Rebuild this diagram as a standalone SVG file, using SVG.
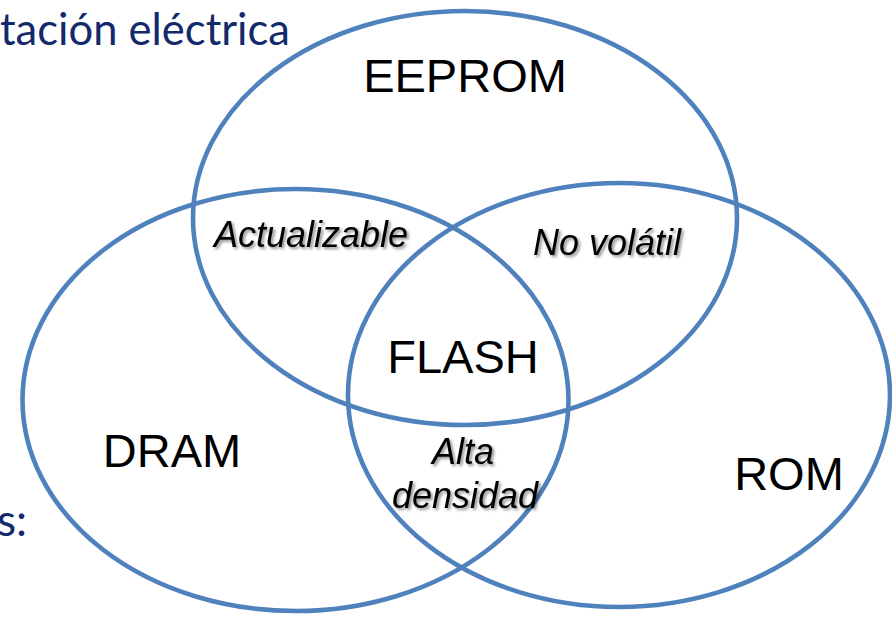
<svg xmlns="http://www.w3.org/2000/svg" width="892" height="617" viewBox="0 0 892 617">
<defs>
<style>
.ring{fill:none;stroke:#4F81BD;stroke-width:4.6}
.big{font-family:"Liberation Sans",Arial,sans-serif;font-size:47px;fill:#000;text-anchor:middle}
.it{font-family:"Liberation Sans",Arial,sans-serif;font-size:36px;font-style:italic;fill:#000;text-anchor:middle}
.bg{font-family:Lato,"Open Sans",sans-serif;font-size:44px;fill:#13296B}
</style>
<filter id="sh" x="-10%" y="-20%" width="130%" height="150%">
<feDropShadow dx="2" dy="2" stdDeviation="1.5" flood-color="#000" flood-opacity="0.45"/>
</filter>
</defs>
<rect width="892" height="617" fill="#fff"/>
<g id="background-text">
<text class="bg" x="0" y="45" textLength="290" lengthAdjust="spacingAndGlyphs">tación eléctrica</text>
<text class="bg" x="-3" y="536">s:</text>
</g>
<g id="connectors"></g>
<g id="eeprom">
<ellipse class="ring" cx="465" cy="218" rx="272" ry="207"/>
<text class="big" x="465" y="92">EEPROM</text>
</g>
<g id="dram">
<ellipse class="ring" cx="295.5" cy="400" rx="273" ry="211"/>
<text class="big" x="172" y="467">DRAM</text>
</g>
<g id="rom">
<ellipse class="ring" cx="619" cy="395" rx="271" ry="212"/>
<text class="big" x="789" y="490">ROM</text>
</g>
<g id="flash">
<text class="big" x="463" y="373">FLASH</text>
</g>
<g id="actualizable">
<text class="it" x="311" y="247" filter="url(#sh)">Actualizable</text>
</g>
<g id="no-volatil">
<text class="it" x="607" y="255" filter="url(#sh)">No volátil</text>
</g>
<g id="alta-densidad">
<text class="it" x="463" y="464" filter="url(#sh)">Alta</text>
<text class="it" x="465" y="508" filter="url(#sh)">densidad</text>
</g>
</svg>
